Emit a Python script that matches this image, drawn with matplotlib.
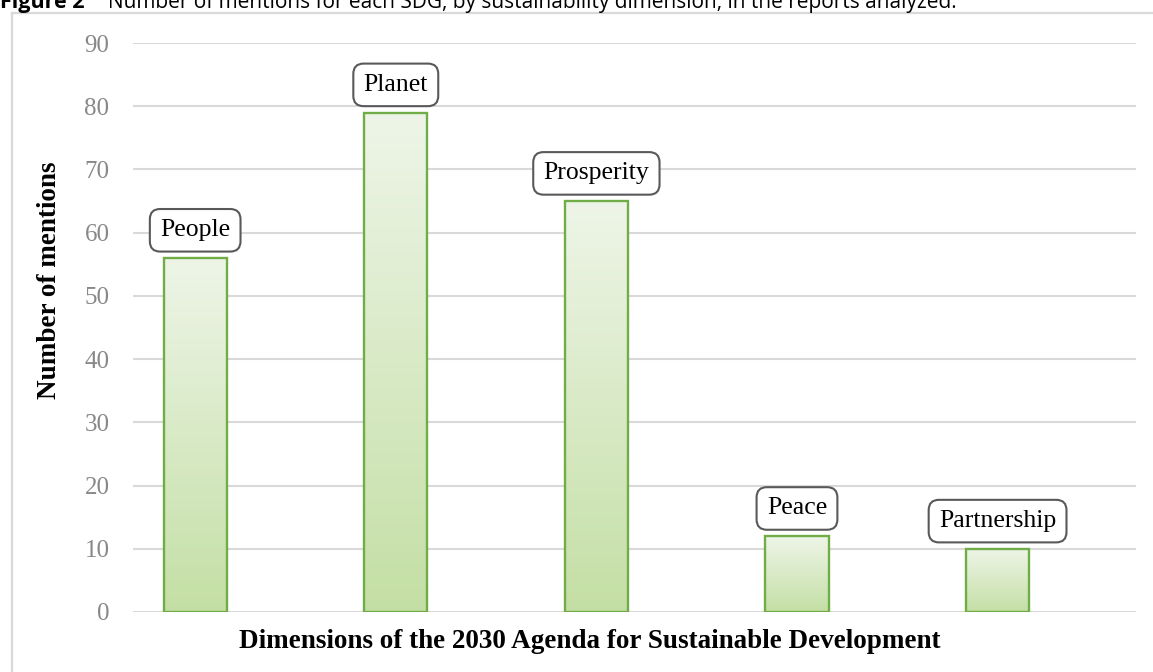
import numpy as np
import matplotlib
matplotlib.use("Agg")
import matplotlib.pyplot as plt
from matplotlib.lines import Line2D

# data
dimensions = ['People', 'Planet', 'Prosperity', 'Peace', 'Partnership']
mentions = [56, 79, 65, 12, 10]
yticks = [0, 10, 20, 30, 40, 50, 60, 70, 80, 90]

serif = ['Liberation Serif', 'DejaVu Serif']
sans = ['Open Sans', 'DejaVu Sans']

W, H = 1153, 672
fig = plt.figure(figsize=(W / 100, H / 100), dpi=100)

# light frame round the panel (top and left edges visible)
fx, fy = 12 / W, 1 - 13 / H
fig.add_artist(Line2D([fx, 1.0], [fy, fy], transform=fig.transFigure, color='#d9d9d9', lw=1.6))
fig.add_artist(Line2D([fx, fx], [fy, 0.0], transform=fig.transFigure, color='#d9d9d9', lw=1.6))

# caption, its top cut off as in the source
fig.text(0.0, 1 - 8 / H, 'Figure 2', fontsize=15.5, fontweight='bold', family=sans,
         va='baseline', ha='left')
fig.text(108 / W, 1 - 8 / H,
         'Number of mentions for each SDG, by sustainability dimension, in the reports analyzed.',
         fontsize=15, family=sans, va='baseline', ha='left')

ax = fig.add_axes([133 / W, 1 - 612 / H, (1136 - 133) / W, (612 - 43) / H])
x = np.arange(len(dimensions))
bars = ax.bar(x, mentions, width=0.315, facecolor='none', edgecolor='#70ad47',
              linewidth=1.7, zorder=3)

# vertical green gradient inside each bar
grad = np.linspace(0, 1, 256).reshape(-1, 1)
cmap = matplotlib.colors.LinearSegmentedColormap.from_list('g', ['#c4dfa5', '#eef5e8'])
for b in bars:
    x0, w, h = b.get_x(), b.get_width(), b.get_height()
    im = ax.imshow(grad, extent=[x0, x0 + w, 0, h], origin='lower', cmap=cmap,
                   aspect='auto', zorder=2)
    im.set_clip_path(b)

for xi, v, name in zip(x, mentions, dimensions):
    ax.annotate(name, (xi, v), xytext=(0, 12), textcoords='offset points',
                ha='center', va='bottom', fontsize=18.5, family=serif, zorder=4,
                bbox=dict(boxstyle='round,pad=0.4,rounding_size=0.4',
                          facecolor='white', edgecolor='#595959', linewidth=1.5))

ax.set_xlim(-0.31, len(dimensions) - 0.31)
ax.set_ylim(0, 90)
ax.set_yticks(yticks)
ax.set_xticks([])
ax.tick_params(axis='y', length=0, pad=17, labelcolor='#888888', labelsize=18)
for lab in ax.get_yticklabels():
    lab.set_family(serif)
ax.grid(axis='y', color='#d9d9d9', linewidth=1.5, zorder=0)
ax.set_axisbelow(True)
for s in ax.spines.values():
    s.set_visible(False)

fig.text(50 / W, 1 - 280 / H, 'Number of mentions', rotation=90, ha='center',
         va='center', fontsize=19.5, fontweight='bold', family=serif)
fig.text(590 / W, 1 - 641 / H, 'Dimensions of the 2030 Agenda for Sustainable Development',
         ha='center', va='center', fontsize=19.5, fontweight='bold', family=serif)

fig.savefig('out.png', dpi=100)
